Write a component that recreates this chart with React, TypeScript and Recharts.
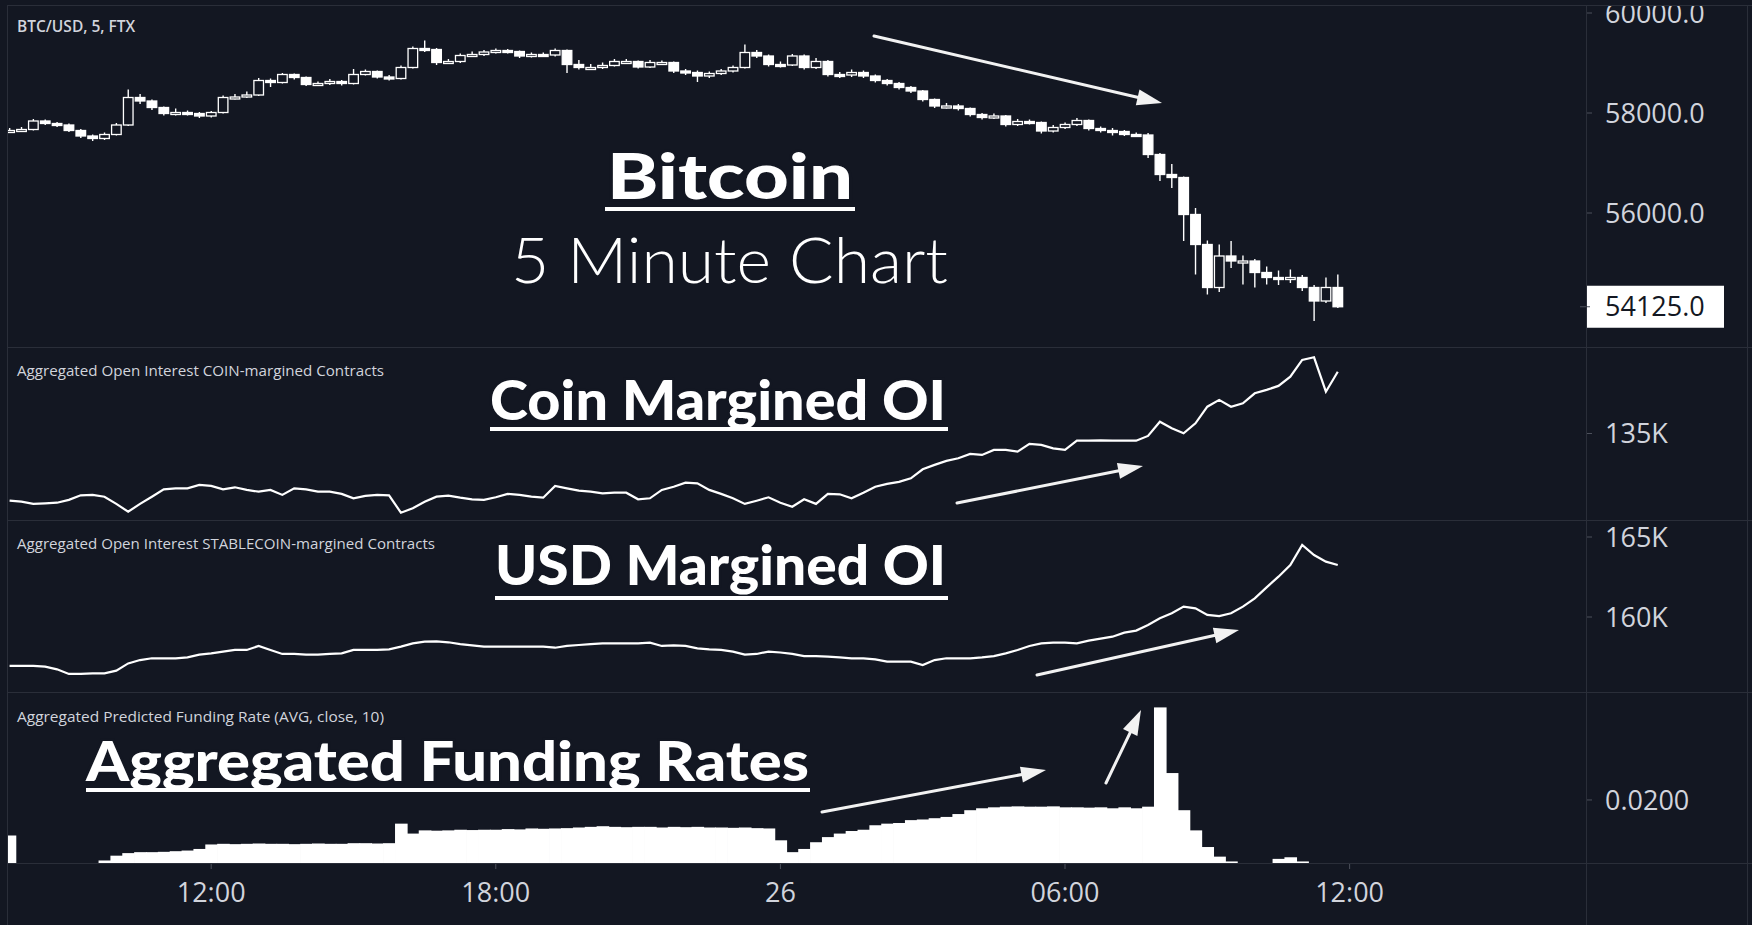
import React from 'react';
import { ComposedChart, Bar, Line, XAxis, YAxis, ReferenceLine } from 'recharts';

const BG = '#131722';
const SEP = '#2a2e39';
const TXT = '#d1d4dc';
const W = 1752;

// time axis: minutes since 00:00 on the 25th, one point every 15 minutes from 07:45
const START_MIN = 465;
const STEP_MIN = 15;
const X_DOMAIN: [number, number] = [463, 2459];
const timeTicks = [720, 1080, 1440, 1800, 2160];
const timeTickLabels = ['12:00', '18:00', '26', '06:00', '12:00'];

const btcFirstOpen = 57640;
const btcClose = [
  57650, 57670, 57840, 57790, 57760, 57650, 57540, 57490, 57570, 57760,
  58310, 58240, 58110, 57990, 58010, 57990, 57940, 58010, 58310, 58320,
  58360, 58650, 58610, 58770, 58710, 58570, 58590, 58630, 58590, 58770,
  58830, 58720, 58690, 58910, 59290, 59270, 59010, 59030, 59150, 59170,
  59220, 59250, 59230, 59140, 59170, 59160, 59250, 58970, 58910, 58910,
  58950, 59030, 59030, 58920, 59010, 59010, 58840, 58810, 58740, 58790,
  58840, 58910, 59210, 59140, 58970, 58960, 59140, 58910, 59030, 58770,
  58760, 58810, 58740, 58650, 58590, 58510, 58440, 58270, 58140, 58140,
  58090, 57970, 57910, 57940, 57770, 57830, 57810, 57640, 57710, 57770,
  57850, 57690, 57650, 57630, 57570, 57560, 57170, 56770, 56710, 55970,
  55370, 54510, 55140, 55040, 55040, 54810, 54710, 54670, 54710, 54510,
  54240, 54510, 54125,
];
const btcHigh = [
  57700, 57720, 57880, 57870, 57820, 57790, 57680, 57570, 57610, 57800,
  58470, 58380, 58270, 58130, 58090, 58050, 58020, 58040, 58350, 58380,
  58430, 58700, 58690, 58800, 58790, 58730, 58630, 58680, 58660, 58880,
  58870, 58850, 58760, 58950, 59330, 59450, 59300, 59080, 59190, 59230,
  59260, 59290, 59280, 59250, 59210, 59210, 59290, 59270, 59060, 58980,
  59010, 59080, 59080, 59050, 59060, 59050, 59030, 58880, 58850, 58830,
  58880, 58950, 59370, 59260, 59170, 59030, 59180, 59170, 59100, 59060,
  58820, 58870, 58850, 58770, 58680, 58620, 58540, 58460, 58290, 58200,
  58180, 58110, 58000, 57990, 57960, 57880, 57870, 57830, 57760, 57810,
  57900, 57870, 57730, 57700, 57660, 57610, 57600, 57200, 56980, 56730,
  56100, 55450, 55370, 55440, 55150, 55080, 54930, 54850, 54870, 54760,
  54560, 54710, 54770,
];
const btcLow = [
  57600, 57620, 57650, 57760, 57720, 57620, 57500, 57440, 57460, 57550,
  57740, 58180, 58060, 57950, 57950, 57950, 57900, 57910, 57990, 58270,
  58300, 58340, 58520, 58590, 58670, 58540, 58540, 58560, 58550, 58570,
  58750, 58690, 58650, 58670, 58890, 59220, 58960, 58980, 59000, 59120,
  59140, 59190, 59190, 59100, 59110, 59120, 59130, 58800, 58870, 58860,
  58880, 58930, 58990, 58890, 58900, 58960, 58800, 58760, 58620, 58700,
  58760, 58810, 58890, 59100, 58930, 58910, 58940, 58870, 58880, 58730,
  58700, 58720, 58700, 58610, 58550, 58470, 58400, 58230, 58100, 58090,
  58050, 57930, 57870, 57880, 57730, 57740, 57770, 57590, 57610, 57680,
  57740, 57650, 57610, 57550, 57540, 57520, 57100, 56640, 56500, 55440,
  54770, 54370, 54420, 54900, 54570, 54510, 54570, 54560, 54600, 54440,
  53840, 54200, 54100,
];
// open interest in thousands
const coinOI = [
  131.64, 131.59, 131.48, 131.51, 131.54, 131.68, 131.91, 131.93, 131.84, 131.48,
  131.09, 131.48, 131.84, 132.21, 132.26, 132.26, 132.43, 132.38, 132.21, 132.31,
  132.18, 132.09, 132.18, 131.93, 132.26, 132.21, 132.09, 132.09, 131.98, 131.76,
  131.88, 131.93, 131.91, 131.04, 131.26, 131.59, 131.84, 131.89, 131.79, 131.71,
  131.68, 131.81, 131.98, 131.93, 131.84, 131.79, 132.38, 132.26, 132.14, 132.09,
  132.01, 132.04, 132.04, 131.71, 131.76, 132.18, 132.34, 132.54, 132.51, 132.18,
  131.98, 131.76, 131.48, 131.64, 131.81, 131.54, 131.34, 131.71, 131.48, 131.98,
  131.96, 131.76, 132.04, 132.34, 132.48, 132.58, 132.76, 133.21, 133.43, 133.63,
  133.76, 133.98, 133.93, 134.18, 134.18, 134.09, 134.48, 134.43, 134.26, 134.18,
  134.64, 134.64, 134.66, 134.64, 134.64, 134.64, 134.88, 135.59, 135.26, 135.01,
  135.51, 136.34, 136.68, 136.34, 136.51, 137.01, 137.18, 137.38, 137.84, 138.68,
  138.81, 137.09, 138.09,
];
const usdOI = [
  156.94, 156.94, 156.94, 156.90, 156.73, 156.44, 156.44, 156.48, 156.48, 156.65,
  157.10, 157.31, 157.42, 157.42, 157.42, 157.48, 157.65, 157.73, 157.84, 157.94,
  157.94, 158.19, 157.94, 157.69, 157.69, 157.65, 157.65, 157.69, 157.73, 157.94,
  157.94, 157.94, 157.98, 158.15, 158.35, 158.46, 158.48, 158.42, 158.31, 158.23,
  158.15, 158.15, 158.15, 158.15, 158.15, 158.15, 158.08, 158.19, 158.25, 158.31,
  158.35, 158.35, 158.35, 158.35, 158.40, 158.19, 158.23, 158.19, 158.04, 157.98,
  157.94, 157.84, 157.65, 157.69, 157.84, 157.78, 157.69, 157.56, 157.56, 157.52,
  157.48, 157.42, 157.42, 157.35, 157.21, 157.21, 157.21, 157.00, 157.31, 157.42,
  157.42, 157.42, 157.48, 157.56, 157.73, 157.94, 158.19, 158.35, 158.40, 158.40,
  158.35, 158.52, 158.65, 158.77, 159.02, 159.15, 159.50, 159.92, 160.23, 160.65,
  160.54, 160.13, 160.06, 160.23, 160.65, 161.17, 161.85, 162.52, 163.25, 164.50,
  163.87, 163.46, 163.25,
];
const funding = [
  0.0089, 0, 0, 0, 0, 0, 0, 0.0003, 0.0011, 0.0026,
  0.0034, 0.0037, 0.0037, 0.0038, 0.0040, 0.0042, 0.0047, 0.0061, 0.0063, 0.0062,
  0.0063, 0.0064, 0.0063, 0.0063, 0.0062, 0.0063, 0.0064, 0.0063, 0.0063, 0.0065,
  0.0065, 0.0064, 0.0065, 0.0126, 0.0095, 0.0105, 0.0104, 0.0105, 0.0107, 0.0106,
  0.0107, 0.0107, 0.0109, 0.0108, 0.0111, 0.0110, 0.0111, 0.0112, 0.0114, 0.0116,
  0.0118, 0.0116, 0.0115, 0.0116, 0.0116, 0.0114, 0.0116, 0.0115, 0.0116, 0.0114,
  0.0114, 0.0113, 0.0114, 0.0112, 0.0111, 0.0074, 0.0037, 0.0047, 0.0068, 0.0084,
  0.0095, 0.0103, 0.0107, 0.0121, 0.0126, 0.0128, 0.0137, 0.0139, 0.0143, 0.0147,
  0.0156, 0.0168, 0.0174, 0.0177, 0.0179, 0.0180, 0.0179, 0.0179, 0.0180, 0.0177,
  0.0177, 0.0176, 0.0177, 0.0174, 0.0177, 0.0174, 0.0179, 0.0489, 0.0284, 0.0168,
  0.0105, 0.0053, 0.0023, 0.0008, 0.0003, 0.0002, 0.0002, 0.0016, 0.0021, 0.0008,
  0.0002, 0.0002, 0.0002,
];

const priceTicks = [56000, 58000, 60000];
const coinTicks = [135];
const usdTicks = [160, 165];
const fundingTicks = [0.02];

const PRICE_DOMAIN: [number, number] = [53300, 60160];
const COIN_DOMAIN: [number, number] = [130.625, 139.275];
const USD_DOMAIN: [number, number] = [155.25, 166.0];
const FUND_DOMAIN: [number, number] = [0, 0.0534];

const lastClose = btcClose[btcClose.length - 1];

const rows = btcClose.map((c, i) => ({
  t: START_MIN + STEP_MIN * i,
  o: i === 0 ? btcFirstOpen : btcClose[i - 1],
  c,
  h: btcHigh[i],
  l: btcLow[i],
  range: [btcLow[i], btcHigh[i]],
  coin: coinOI[i],
  usd: usdOI[i],
  fr: funding[i],
}));

const axisFont = { fill: TXT, fontSize: 27, fontFamily: 'Open Sans' };

const BODY_HALF = 5.4;

const CandleShape = (props: any) => {
  const { x, y, width, height, payload } = props;
  if (!payload || x == null) return null;
  const { o, c, h, l } = payload;
  const cx = x + width / 2;
  const ratio = h === l ? 0 : height / (h - l);
  const top = y + (h - Math.max(o, c)) * ratio;
  const bot = y + (h - Math.min(o, c)) * ratio;
  const up = c >= o;
  const bh = Math.max(2, bot - top);
  return (
    <g>
      <line x1={cx} x2={cx} y1={y} y2={top} stroke="#ffffff" strokeWidth={1.4} />
      <line x1={cx} x2={cx} y1={top + bh} y2={y + height} stroke="#ffffff" strokeWidth={1.4} />
      <rect
        x={cx - BODY_HALF + 0.6}
        y={top}
        width={BODY_HALF * 2 - 1.2}
        height={bh}
        fill={up ? BG : '#ffffff'}
        stroke="#ffffff"
        strokeWidth={1.3}
      />
    </g>
  );
};

const FundingShape = (props: any) => {
  const { x, y, width, height } = props;
  if (x == null || !height || height <= 0) return null;
  const cx = x + width / 2;
  return <rect x={cx - 6.3} y={y} width={12.6} height={height} fill="#ffffff" />;
};

const LastPriceLabel = (props: any) => {
  const vb = props.viewBox || {};
  const x = (vb.x ?? 0) + (vb.width ?? 0);
  const y = vb.y ?? 0;
  return (
    <g>
      <rect x={x} y={y - 21} width={138} height={42} fill="#ffffff" />
      <line x1={x - 6} x2={x + 4} y1={y} y2={y} stroke="#4c505b" strokeWidth={1} />
      <text x={x + 19} y={y} dy="0.36em" fontSize={27} fontFamily="Open Sans" fill="#131722">
        {lastClose.toFixed(1)}
      </text>
    </g>
  );
};

function Arrow({ x1, y1, x2, y2 }: { x1: number; y1: number; x2: number; y2: number }) {
  const dx = x2 - x1;
  const dy = y2 - y1;
  const len = Math.hypot(dx, dy);
  const ux = dx / len;
  const uy = dy / len;
  const hl = 25;
  const hw = 8;
  const bx = x2 - ux * hl;
  const by = y2 - uy * hl;
  const px = -uy;
  const py = ux;
  return (
    <g>
      <line x1={x1} y1={y1} x2={bx + ux * 3} y2={by + uy * 3} stroke="#f2f2f2" strokeWidth={3} strokeLinecap="round" />
      <polygon
        points={`${x2},${y2} ${bx + px * hw},${by + py * hw} ${bx - px * hw},${by - py * hw}`}
        fill="#f2f2f2"
      />
    </g>
  );
}

const BigTitle = ({ x, y, w, size, children, weight = 900 }: any) => (
  <text
    x={x}
    y={y}
    fontFamily="Lato"
    fontWeight={weight}
    fontSize={size}
    fill="#ffffff"
    textLength={w}
    lengthAdjust="spacingAndGlyphs"
    stroke={BG}
    strokeWidth={weight > 500 ? 5 : 0}
    paintOrder="stroke"
  >
    {children}
  </text>
);

const yAxisProps = {
  orientation: 'right' as const,
  width: 166,
  tickSize: 6,
  tickMargin: 13,
  axisLine: false,
  tickLine: { stroke: '#4c505b' },
  tick: axisFont,
  allowDataOverflow: true,
  interval: 0 as const,
};

const hiddenX = <XAxis dataKey="t" type="number" domain={X_DOMAIN} hide allowDataOverflow />;

export default function App() {
  return (
    <div
      style={{
        position: 'absolute',
        left: 0,
        top: 0,
        width: W,
        height: 925,
        background: BG,
        overflow: 'hidden',
      }}
    >
      <style>{'.ovf .recharts-surface{overflow:visible}'}</style>

      {/* Price panel */}
      <div style={{ position: 'absolute', left: 0, top: 5, width: W, height: 343, overflow: 'hidden' }}>
        <ComposedChart width={W} height={343} data={rows} margin={{ top: 0, right: 0, bottom: 0, left: 8 }}>
          {hiddenX}
          <YAxis {...yAxisProps} domain={PRICE_DOMAIN} ticks={priceTicks} tickFormatter={(v: number) => v.toFixed(1)} />
          <Bar dataKey="range" barSize={8} shape={CandleShape} isAnimationActive={false} />
          <ReferenceLine y={lastClose} stroke="none" label={<LastPriceLabel />} />
        </ComposedChart>
      </div>

      {/* Coin-margined OI */}
      <div className="ovf" style={{ position: 'absolute', left: 0, top: 348, width: W, height: 173 }}>
        <ComposedChart width={W} height={173} data={rows} margin={{ top: 0, right: 0, bottom: 0, left: 8 }}>
          {hiddenX}
          <YAxis {...yAxisProps} domain={COIN_DOMAIN} ticks={coinTicks} tickFormatter={(v: number) => `${v}K`} />
          <Line dataKey="coin" type="linear" stroke="#ffffff" strokeWidth={2.2} dot={false} isAnimationActive={false} />
        </ComposedChart>
      </div>

      {/* USD-margined OI */}
      <div className="ovf" style={{ position: 'absolute', left: 0, top: 521, width: W, height: 172 }}>
        <ComposedChart width={W} height={172} data={rows} margin={{ top: 0, right: 0, bottom: 0, left: 8 }}>
          {hiddenX}
          <YAxis {...yAxisProps} domain={USD_DOMAIN} ticks={usdTicks} tickFormatter={(v: number) => `${v}K`} />
          <Line dataKey="usd" type="linear" stroke="#ffffff" strokeWidth={2.2} dot={false} isAnimationActive={false} />
        </ComposedChart>
      </div>

      {/* Funding + time axis */}
      <div style={{ position: 'absolute', left: 0, top: 693, width: W, height: 232, overflow: 'hidden' }}>
        <ComposedChart width={W} height={232} data={rows} margin={{ top: 0, right: 0, bottom: 0, left: 8 }}>
          <XAxis
            dataKey="t"
            type="number"
            domain={X_DOMAIN}
            allowDataOverflow
            ticks={timeTicks}
            interval={0}
            height={61}
            tickSize={5}
            tickMargin={14}
            axisLine={false}
            tickLine={{ stroke: '#4c505b' }}
            tick={axisFont}
            tickFormatter={(v: number) => timeTickLabels[timeTicks.indexOf(v)] ?? ''}
          />
          <YAxis {...yAxisProps} domain={FUND_DOMAIN} ticks={fundingTicks} tickFormatter={(v: number) => v.toFixed(4)} />
          <Bar dataKey="fr" barSize={12} fill="#ffffff" shape={FundingShape} isAnimationActive={false} />
        </ComposedChart>
      </div>

      {/* Frame, separators, labels and annotations */}
      <svg width={W} height={925} style={{ position: 'absolute', left: 0, top: 0, pointerEvents: 'none' }}>
        <line x1={7} x2={W} y1={5.5} y2={5.5} stroke={SEP} strokeWidth={1} />
        <line x1={7.5} x2={7.5} y1={5} y2={925} stroke={SEP} strokeWidth={1} />
        <line x1={1747.5} x2={1747.5} y1={5} y2={925} stroke={SEP} strokeWidth={1} />
        {[347.5, 520.5, 692.5, 863.5].map((y) => (
          <line key={y} x1={7} x2={W} y1={y} y2={y} stroke={SEP} strokeWidth={1} />
        ))}
        <line x1={1586.5} x2={1586.5} y1={5} y2={925} stroke={SEP} strokeWidth={1} />

        <text x={17} y={26} dominantBaseline="central" fontFamily="Open Sans" fontWeight={600} fontSize={15.5} fill={TXT}>
          BTC/USD, 5, FTX
        </text>
        <text x={17} y={370} dominantBaseline="central" fontFamily="Open Sans" fontSize={15} fill={TXT} textLength={367} lengthAdjust="spacingAndGlyphs">
          Aggregated Open Interest COIN-margined Contracts
        </text>
        <text x={17} y={543} dominantBaseline="central" fontFamily="Open Sans" fontSize={15} fill={TXT} textLength={418} lengthAdjust="spacingAndGlyphs">
          Aggregated Open Interest STABLECOIN-margined Contracts
        </text>
        <text x={17} y={716} dominantBaseline="central" fontFamily="Open Sans" fontSize={15} fill={TXT} textLength={367} lengthAdjust="spacingAndGlyphs">
          Aggregated Predicted Funding Rate (AVG, close, 10)
        </text>

        <BigTitle x={607} y={199} w={246} size={62}>Bitcoin</BigTitle>
        <rect x={605} y={207} width={250} height={4} fill="#ffffff" />
        <BigTitle x={511} y={283} w={437} size={64} weight={300}>5 Minute Chart</BigTitle>

        <BigTitle x={490} y={420} w={456} size={55}>Coin Margined OI</BigTitle>
        <rect x={490} y={427} width={458} height={4} fill="#ffffff" />

        <BigTitle x={495} y={585} w={451} size={55}>USD Margined OI</BigTitle>
        <rect x={495} y={596} width={453} height={4} fill="#ffffff" />

        <BigTitle x={86} y={781} w={723} size={55}>Aggregated Funding Rates</BigTitle>
        <rect x={86} y={788} width={724} height={4} fill="#ffffff" />

        <Arrow x1={874} y1={36} x2={1162} y2={103} />
        <Arrow x1={957} y1={503} x2={1143} y2={466} />
        <Arrow x1={1037} y1={675} x2={1239} y2={630} />
        <Arrow x1={822} y1={812} x2={1046} y2={770} />
        <Arrow x1={1106} y1={783} x2={1141} y2={710} />
      </svg>
    </div>
  );
}
